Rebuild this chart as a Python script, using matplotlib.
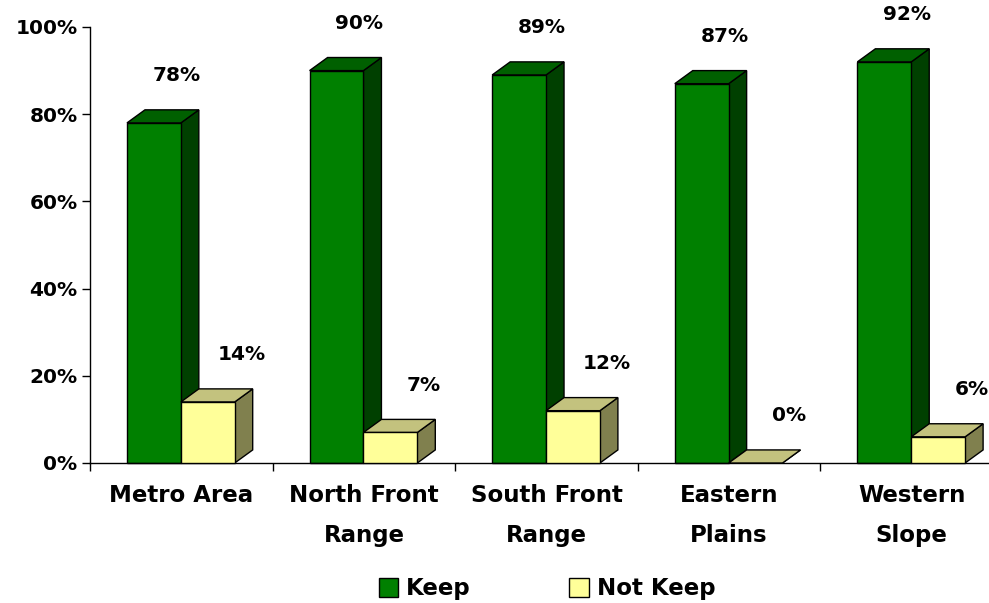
import matplotlib
matplotlib.use("Agg")
import matplotlib.pyplot as plt
from matplotlib.patches import Polygon, Patch
import numpy as np

categories = ["Metro Area", "North Front\nRange", "South Front\nRange", "Eastern\nPlains", "Western\nSlope"]
keep = [78, 90, 89, 87, 92]
not_keep = [14, 7, 12, 0, 6]
yticks = [0, 20, 40, 60, 80, 100]

W, H = 989, 603
fig = plt.figure(figsize=(W / 100, H / 100), dpi=100)
left_px, right_px, top_px, bot_px = 90, 1003, 27, 463
ax = fig.add_axes([left_px / W, (H - bot_px) / H, (right_px - left_px) / W, (bot_px - top_px) / H])
ax.set_xlim(0, 5)
ax.set_ylim(0, 100)

FONT = "DejaVu Sans"
FS = 14.5
FS_CAT = 16.5

bw = 0.295
x0 = 0.2025
dx = 0.0985
dy = 3.0

series = [
    (keep, 0, "#008000", "#006000", "#004000", "Keep", 0.125),
    (not_keep, 1, "#FFFF99", "#C3C27E", "#80804E", "Not Keep", 0.185),
]

for vals, k, front, top, side, name, loff in series:
    for i, v in enumerate(vals):
        xl = i + x0 + k * bw
        xr = xl + bw
        # side
        ax.add_patch(Polygon([(xr, 0), (xr + dx, dy), (xr + dx, v + dy), (xr, v)],
                             closed=True, facecolor=side, edgecolor="black", lw=1, clip_on=False, zorder=2 + k))
        # top
        ax.add_patch(Polygon([(xl, v), (xl + dx, v + dy), (xr + dx, v + dy), (xr, v)],
                             closed=True, facecolor=top, edgecolor="black", lw=1, clip_on=False, zorder=2 + k))
        # front
        if v > 0:
            ax.add_patch(Polygon([(xl, 0), (xl, v), (xr, v), (xr, 0)],
                                 closed=True, facecolor=front, edgecolor="black", lw=1, clip_on=False, zorder=2 + k))
        ax.text(xl + bw / 2 + loff, v + 10.8, f"{v}%", ha="center", va="center",
                fontsize=FS, fontweight="bold", family=FONT, zorder=5)

ax.set_yticks(yticks)
ax.set_yticklabels([f"{t}%" for t in yticks], fontsize=FS, fontweight="bold", family=FONT)
ax.set_xticks(range(0, 6))
ax.set_xticklabels([])
ax.tick_params(axis="both", direction="out", length=6, width=1, color="black")
ax.tick_params(axis="y", pad=3)
for s in ["top", "right"]:
    ax.spines[s].set_visible(False)
for s in ["left", "bottom"]:
    ax.spines[s].set_linewidth(1)
for i, c in enumerate(categories):
    ax.text(i + 0.5, -4.8, c, ha="center", va="top", fontsize=FS_CAT, fontweight="bold",
            family=FONT, linespacing=1.95, transform=ax.transData)

handles = [Patch(facecolor="#008000", edgecolor="black", lw=1, label="Keep"),
           Patch(facecolor="#FFFF99", edgecolor="black", lw=1, label="Not Keep")]
fig.legend(handles=handles, loc="center", bbox_to_anchor=(547 / W, (H - 589) / H), ncol=2,
           frameon=False, prop={"family": FONT, "weight": "bold", "size": FS_CAT},
           handlelength=0.85, handleheight=0.85, handletextpad=0.35, columnspacing=4.3)

fig.savefig("out.png", dpi=100, facecolor="white")
